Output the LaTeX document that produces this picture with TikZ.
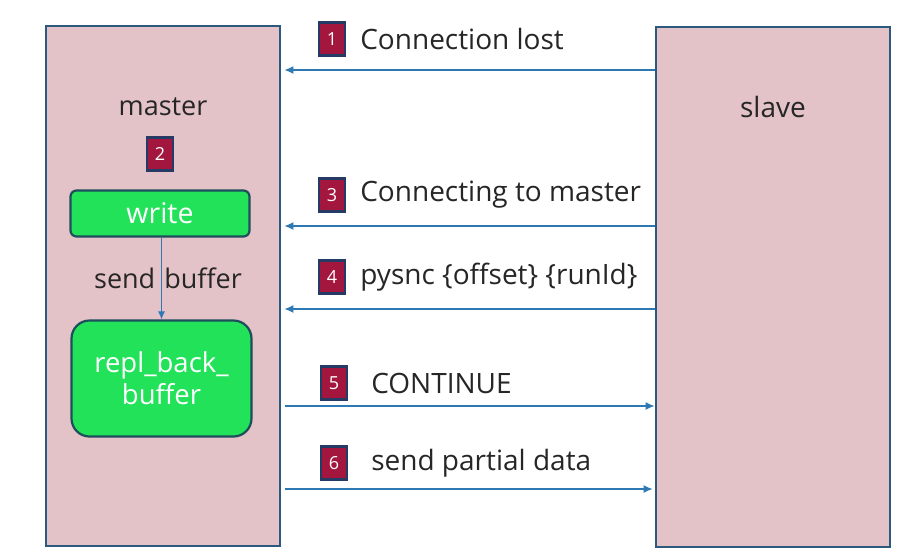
\documentclass[tikz,border=0pt]{standalone}
\usepackage{fontspec}
\setmainfont{Open Sans}
\usepackage{xcolor}
\usepackage{tikz}
\usetikzlibrary{arrows.meta}
\usetikzlibrary{positioning}
\definecolor{boxpink}{HTML}{E3C2C8}
\definecolor{boxline}{HTML}{2B5A7E}
\definecolor{bufgreen}{HTML}{22E25A}
\definecolor{bufline}{HTML}{1E4D5C}
\definecolor{numred}{HTML}{A3173F}
\definecolor{numline}{HTML}{253B66}
\definecolor{msgblue}{HTML}{2E78B4}
\tikzset{
    tnode/.style = {align=center, inner sep=0pt, text centered},
    host_node/.style = {tnode, rectangle, draw=boxline, fill=boxpink, line width=2.8pt, minimum width=234pt, minimum height=520pt},
    host_text/.style = {tnode, font=\fontsize{27}{32}\selectfont, text=black!85},
    write_node/.style = {tnode, rectangle, rounded corners=6pt, draw=bufline, fill=bufgreen, line width=2.2pt, text=white, font=\fontsize{27.5}{32}\selectfont},
    num_node/.style = {tnode, rectangle, draw=numline, fill=numred, line width=2.2pt, text=white, minimum width=26pt, minimum height=33pt, font=\fontsize{18}{20}\selectfont},
    msg_text/.style = {tnode, anchor=west, font=\fontsize{28}{32}\selectfont, text=black!85},
    msg/.style = {draw=msgblue, line width=1.3pt, -{Latex[length=9pt,width=8pt]}}
}

\begin{document}
\begin{tikzpicture}
            [x=1pt, y=-1pt]
            \useasboundingbox [fill=white] (0,0) rectangle (921,558);

            % hosts
            \node [host_node] (master) at (163,286) {};
            \node [host_node] (slave) at (773,287) {};
            \node [host_text] (master_label) at (163,107) {master};
            \node [host_text, font=\fontsize{28}{32}\selectfont] (slave_label) at (773,107) {slave};

            % buffers inside master
            \node [num_node] (n2) at (160,154) {2};
            \node [write_node, font=\fontsize{28.5}{32}\selectfont, minimum width=179pt, minimum height=46pt] (write) at (160,213.5) {write};
            \node [write_node, rounded corners=18pt, minimum width=180pt, minimum height=116pt] (repl) at (161.5,378.5) {repl\_back\_\\buffer};
            \draw [msg, line width=1.1pt, -{Latex[length=8pt,width=7pt]}] (write.south -| repl.north) -- (repl.north);
            \node [host_text] (send) at (168,278) {send\hspace{9pt}buffer};

            % messages
            \coordinate (y1) at (0,70);
            \coordinate (y3) at (0,226);
            \coordinate (y4) at (0,309);
            \coordinate (y5) at (0,406);
            \coordinate (y6) at (0,489);

            \node [num_node] (n1) at (332,39) {1};
            \node [msg_text, right=14pt of n1] (t1) {Connection lost};
            \draw [msg] (slave.west |- y1) -- ([xshift=3pt]master.east |- y1);

            \node [num_node] (n3) at (332,195) {3};
            \node [msg_text, right=14pt of n3] (t3) {Connecting to master};
            \draw [msg] (slave.west |- y3) -- ([xshift=3pt]master.east |- y3);

            \node [num_node] (n4) at (332,277) {4};
            \node [msg_text, right=14pt of n4] (t4) {pysnc \{offset\} \{runId\}};
            \draw [msg] (slave.west |- y4) -- ([xshift=3pt]master.east |- y4);

            \node [num_node] (n5) at (334,383) {5};
            \node [msg_text, right=23pt of n5] (t5) {CONTINUE};
            \draw [msg] ([xshift=4pt]master.east |- y5) -- (slave.west |- y5);

            \node [num_node] (n6) at (334,463) {6};
            \node [msg_text, right=23pt of n6] (t6) {send partial data};
            \draw [msg] ([xshift=4pt]master.east |- y6) -- ([xshift=-2pt]slave.west |- y6);
\end{tikzpicture}
\end{document}
